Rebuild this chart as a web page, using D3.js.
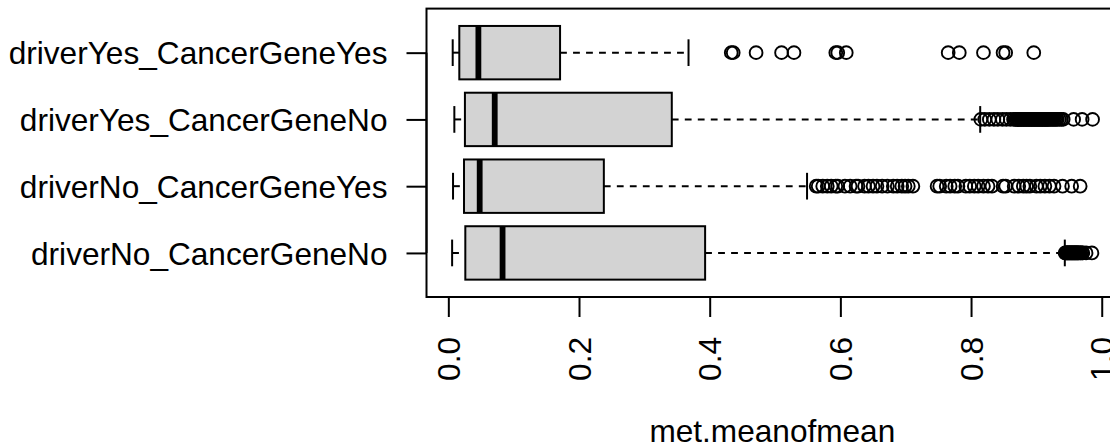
<!DOCTYPE html>
<html>
<head>
<meta charset="utf-8">
<script src="https://cdn.jsdelivr.net/npm/d3@7"></script>
<style>
  html, body { margin: 0; padding: 0; background: #fff; }
  svg { display: block; }
  text { font-family: "Liberation Sans", Arial, Helvetica, sans-serif; fill: #000; }
</style>
</head>
<body>
<svg id="chart" width="1110" height="447"></svg>
<script>
// Groups, bottom to top (position 1..4 on the vertical axis)
const categories = [
  "driverNo_CancerGeneNo",
  "driverNo_CancerGeneYes",
  "driverYes_CancerGeneNo",
  "driverYes_CancerGeneYes"
];

// Five-number summaries per group
const whiskerLow  = [0.0058, 0.0072, 0.0092, 0.0067];
const lowerHinge  = [0.026,  0.024,  0.0254, 0.0168];
const medians     = [0.083,  0.048,  0.071,  0.046];
const upperHinge  = [0.393,  0.238,  0.342,  0.171];
const whiskerHigh = [0.9435, 0.549,  0.814,  0.3676];

// Outlying points per group
const outliersNoNo = [
  0.944, 0.945, 0.946, 0.947, 0.948, 0.949, 0.950, 0.951, 0.952, 0.953,
  0.954, 0.955, 0.956, 0.957, 0.958, 0.959, 0.960, 0.961, 0.962, 0.963,
  0.964, 0.965, 0.967, 0.968, 0.970, 0.971, 0.976, 0.985
];
const outliersNoYes = [
  0.563, 0.566, 0.573, 0.580, 0.586, 0.593, 0.596, 0.607, 0.615, 0.624,
  0.627, 0.637, 0.643, 0.650, 0.656, 0.664, 0.672, 0.681, 0.687, 0.694,
  0.699, 0.704, 0.711,
  0.748, 0.752, 0.762, 0.768, 0.775, 0.780, 0.792, 0.798, 0.805, 0.811,
  0.819, 0.826, 0.832, 0.849, 0.853, 0.866, 0.873, 0.880, 0.885, 0.890,
  0.900, 0.906, 0.913, 0.920, 0.927, 0.940, 0.954, 0.967
];
const outliersYesNo = [
  0.815, 0.821, 0.828, 0.835, 0.841, 0.848, 0.854, 0.860, 0.865, 0.868,
  0.870, 0.872, 0.873, 0.874, 0.876, 0.877, 0.878, 0.880, 0.881, 0.882,
  0.884, 0.885, 0.886, 0.888, 0.889, 0.890, 0.892, 0.893, 0.894, 0.896,
  0.897, 0.898, 0.900, 0.901, 0.902, 0.904, 0.905, 0.906, 0.908, 0.909,
  0.910, 0.912, 0.913, 0.914, 0.916, 0.917, 0.918, 0.920, 0.922, 0.924,
  0.926, 0.928, 0.930, 0.932, 0.935, 0.938, 0.941, 0.957, 0.970, 0.986
];
const outliersYesYes = [
  0.433, 0.436, 0.471, 0.510, 0.529, 0.593, 0.596, 0.609,
  0.765, 0.782, 0.819, 0.849, 0.853, 0.896
];
const outliers = [outliersNoNo, outliersNoYes, outliersYesNo, outliersYesYes];

// Axis ticks
const xTicks = [0, 0.2, 0.4, 0.6, 0.8, 1.0];
const xTickLabels = ["0.0", "0.2", "0.4", "0.6", "0.8", "1.0"];
const xTitle = "met.meanofmean";

// ---- layout ----
const svg = d3.select("#chart");
const plotLeft = 426.5, plotTop = 8.6, plotBottom = 297;
const pxPerUnit = 653.4;
const fontSize = 31.6;
const lineW = 2;

// Value range padded by 4% on both sides
const allVals = whiskerLow.concat(whiskerHigh, ...outliers);
const lo = d3.min(allVals), hi = d3.max(allVals);
const pad = (hi - lo) * 0.04;
const xlim = [lo - pad, hi + pad];

const x = d3.scaleLinear()
  .domain(xlim)
  .range([plotLeft, plotLeft + (xlim[1] - xlim[0]) * pxPerUnit]);

const ylim = [0.5 - 0.16, categories.length + 0.5 + 0.16];
const y = d3.scaleLinear().domain(ylim).range([plotBottom, plotTop]);

const boxHalf = 0.4;     // half box thickness, in category units
const stapleHalf = 0.2;  // half whisker-end length

const rows = categories.map((c, i) => ({
  name: c, pos: i + 1,
  wlo: whiskerLow[i], q1: lowerHinge[i], med: medians[i],
  q3: upperHinge[i], whi: whiskerHigh[i], out: outliers[i]
}));

const g = svg.append("g");

// whiskers (dashed)
g.selectAll("line.whisker-lo").data(rows).join("line")
  .attr("x1", d => x(d.wlo)).attr("x2", d => x(d.q1))
  .attr("y1", d => y(d.pos)).attr("y2", d => y(d.pos))
  .attr("stroke", "#000").attr("stroke-width", lineW)
  .attr("stroke-dasharray", "6.8,6.2");
g.selectAll("line.whisker-hi").data(rows).join("line")
  .attr("x1", d => x(d.q3)).attr("x2", d => x(d.whi))
  .attr("y1", d => y(d.pos)).attr("y2", d => y(d.pos))
  .attr("stroke", "#000").attr("stroke-width", lineW)
  .attr("stroke-dasharray", "6.8,6.2");

// staples
["wlo", "whi"].forEach(k => {
  g.selectAll(null).data(rows).join("line")
    .attr("x1", d => x(d[k])).attr("x2", d => x(d[k]))
    .attr("y1", d => y(d.pos - stapleHalf)).attr("y2", d => y(d.pos + stapleHalf))
    .attr("stroke", "#000").attr("stroke-width", lineW);
});

// boxes
g.selectAll("rect.box").data(rows).join("rect")
  .attr("x", d => x(d.q1))
  .attr("width", d => x(d.q3) - x(d.q1))
  .attr("y", d => y(d.pos + boxHalf))
  .attr("height", d => y(d.pos - boxHalf) - y(d.pos + boxHalf))
  .attr("fill", "#D3D3D3")
  .attr("stroke", "#000").attr("stroke-width", lineW);

// medians
g.selectAll("line.median").data(rows).join("line")
  .attr("x1", d => x(d.med)).attr("x2", d => x(d.med))
  .attr("y1", d => y(d.pos + boxHalf)).attr("y2", d => y(d.pos - boxHalf))
  .attr("stroke", "#000").attr("stroke-width", 5.8);

// outliers
rows.forEach(r => {
  g.selectAll(null).data(r.out).join("circle")
    .attr("cx", v => x(v)).attr("cy", y(r.pos))
    .attr("r", 6.4)
    .attr("fill", "none").attr("stroke", "#000").attr("stroke-width", 1.9);
});

// frame
svg.append("rect")
  .attr("x", x(xlim[0])).attr("y", y(ylim[1]))
  .attr("width", x(xlim[1]) - x(xlim[0]))
  .attr("height", y(ylim[0]) - y(ylim[1]))
  .attr("fill", "none").attr("stroke", "#000").attr("stroke-width", lineW);

// left axis
const yAxis = d3.axisLeft(y)
  .tickValues(rows.map(r => r.pos))
  .tickFormat((d, i) => categories[i])
  .tickSize(20).tickSizeOuter(0).tickPadding(19);
const ya = svg.append("g").attr("transform", `translate(${x(xlim[0])},0)`).call(yAxis);
ya.select(".domain")
  .attr("d", `M0,${y(1)}V${y(categories.length)}`)
  .attr("stroke", "#000").attr("stroke-width", lineW);
ya.selectAll(".tick line").attr("stroke", "#000").attr("stroke-width", lineW);
ya.selectAll(".tick text")
  .attr("font-size", fontSize).attr("dy", "0.35em")
  .style("font-family", '"Liberation Sans", Arial, sans-serif');

// bottom axis
const xAxis = d3.axisBottom(x)
  .tickValues(xTicks)
  .tickFormat((d, i) => xTickLabels[i])
  .tickSize(20).tickSizeOuter(0);
const xa = svg.append("g").attr("transform", `translate(0,${y(ylim[0])})`).call(xAxis);
xa.select(".domain")
  .attr("d", `M${x(xTicks[0])},0H${x(xTicks[xTicks.length - 1])}`)
  .attr("stroke", "#000").attr("stroke-width", lineW);
xa.selectAll(".tick line").attr("stroke", "#000").attr("stroke-width", lineW);
xa.selectAll(".tick text")
  .attr("font-size", fontSize)
  .attr("transform", "rotate(-90)")
  .attr("x", -40).attr("y", 0).attr("dy", "0.35em")
  .attr("text-anchor", "end")
  .style("font-family", '"Liberation Sans", Arial, sans-serif');

// axis title
svg.append("text")
  .attr("x", (x(xlim[0]) + x(xlim[1])) / 2)
  .attr("y", 442)
  .attr("text-anchor", "middle")
  .attr("font-size", fontSize)
  .text(xTitle);
</script>
</body>
</html>
